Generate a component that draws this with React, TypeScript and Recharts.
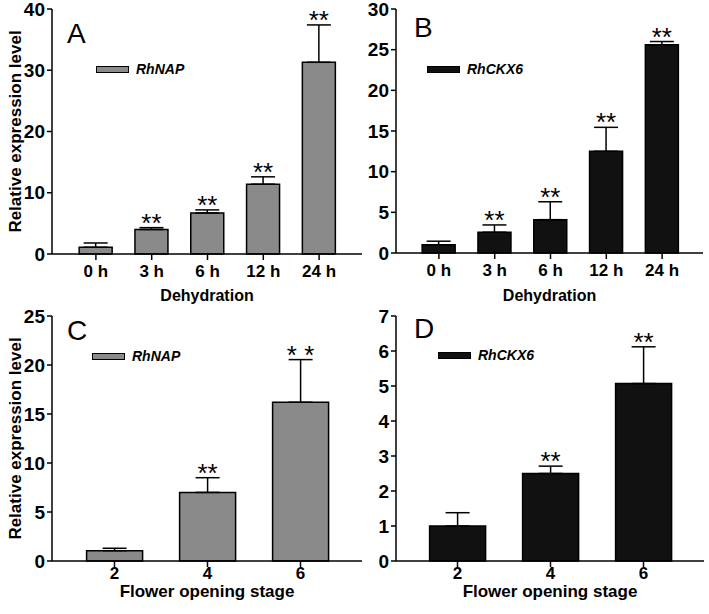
import React from 'react';
import { BarChart, Bar, XAxis, YAxis, ErrorBar, LabelList, Legend } from 'recharts';

const dehydrationHours = ['0 h', '3 h', '6 h', '12 h', '24 h'];
const openingStages = ['2', '4', '6'];

// relative expression, mean and upper SD
const napDehydration = [1.1, 4.0, 6.7, 11.4, 31.3];
const napDehydrationErr = [0.7, 0.3, 0.5, 1.2, 6.1];
const ckxDehydration = [1.0, 2.55, 4.1, 12.5, 25.6];
const ckxDehydrationErr = [0.45, 0.9, 2.2, 2.95, 0.4];
const napStage = [1.05, 7.0, 16.2];
const napStageErr = [0.25, 1.5, 4.35];
const ckxStage = [1.0, 2.5, 5.07];
const ckxStageErr = [0.38, 0.21, 1.05];

const dehydrationSig = ['', '**', '**', '**', '**'];
const napStageSig = ['', '**', '* *'];
const ckxStageSig = ['', '**', '**'];

const ticksA = [0, 10, 20, 30, 40];
const ticksB = [0, 5, 10, 15, 20, 25, 30];
const ticksC = [0, 5, 10, 15, 20, 25];
const ticksD = [0, 1, 2, 3, 4, 5, 6, 7];

const font = '"Liberation Sans", Arial, Helvetica, sans-serif';
const GRAY = '#8a8a8a';
const BLACK = '#111111';
const line = { stroke: '#000', strokeWidth: 1.5 };

function Panel(props: any) {
  const {
    left, top, width, height, plotTop, axisWidth, rightMargin, xAxisHeight, pad,
    labels, values, errors, sig, fill, gene, letter, letterPos, legendPos,
    yTicks, xTitle, xTitleSize, xTitleOffset, xTickSize, xTickMargin, yTitle,
  } = props;

  const data = labels.map((label: string, i: number) => ({
    label,
    value: values[i],
    err: [0, errors[i]],
    sig: sig[i],
  }));

  const stars = (p: any) => {
    const i = p.index;
    if (i == null || !sig[i]) return null;
    const x = p.x ?? p.viewBox?.x;
    const y = p.y ?? p.viewBox?.y;
    const w = p.width ?? p.viewBox?.width;
    const h = p.height ?? p.viewBox?.height;
    const k = h / values[i];
    const errTop = y - errors[i] * k;
    return (
      <text x={x + w / 2} y={errTop + 4} textAnchor="middle" fontSize={26} fontFamily={font} fill="#000">
        {sig[i]}
      </text>
    );
  };

  const legend = () => (
    <div style={{ display: 'flex', alignItems: 'center', fontFamily: font }}>
      <div style={{ width: 31, height: 5, background: fill, border: '1.5px solid #000' }} />
      <span style={{ marginLeft: 7, fontSize: 14, fontWeight: 'bold', fontStyle: 'italic', lineHeight: '14px' }}>
        {gene}
      </span>
    </div>
  );

  return (
    <div style={{ position: 'absolute', left, top }}>
      <BarChart
        width={width}
        height={height}
        data={data}
        margin={{ top: plotTop, right: rightMargin, left: 0, bottom: 0 }}
        barCategoryGap="20%"
      >
        <XAxis
          dataKey="label"
          height={xAxisHeight}
          padding={pad}
          axisLine={line}
          tickLine={line}
          tickSize={xTickSize}
          tickMargin={xTickMargin}
          tick={{ fill: '#000', fontSize: 17, fontWeight: 'bold', fontFamily: font }}
          label={{
            value: xTitle,
            position: 'insideBottom',
            offset: xTitleOffset,
            style: { fill: '#000', fontSize: xTitleSize, fontWeight: 'bold', fontFamily: font },
          }}
        />
        <XAxis xAxisId="top" dataKey="label" orientation="top" height={0} tick={false} tickLine={false} axisLine={line} />
        <YAxis
          width={axisWidth}
          domain={[0, yTicks[yTicks.length - 1]]}
          ticks={yTicks}
          interval={0}
          axisLine={line}
          tickLine={line}
          tickSize={5}
          tickMargin={2}
          tick={{ fill: '#000', fontSize: 19, fontWeight: 'bold', fontFamily: font }}
          label={
            yTitle
              ? {
                  value: yTitle,
                  angle: -90,
                  position: 'insideLeft',
                  offset: 15,
                  style: { textAnchor: 'middle', fill: '#000', fontSize: 17, fontWeight: 'bold', fontFamily: font },
                }
              : undefined
          }
        />
        <YAxis yAxisId="right" orientation="right" width={0} tick={false} tickLine={false} axisLine={line} />
        <Legend
          layout="vertical"
          align="center"
          verticalAlign="middle"
          wrapperStyle={{ left: legendPos[0], top: legendPos[1], width: 'auto' }}
          content={legend}
        />
        <Bar dataKey="value" fill={fill} stroke="#000" strokeWidth={1.5} isAnimationActive={false}>
          <ErrorBar dataKey="err" direction="y" width={12} stroke="#000" strokeWidth={1.5} />
          <LabelList dataKey="sig" content={stars} />
        </Bar>
        <text x={letterPos[0]} y={letterPos[1]} fontSize={28} fontFamily={font} fill="#000">
          {letter}
        </text>
      </BarChart>
    </div>
  );
}

export default function App() {
  return (
    <div style={{ position: 'absolute', left: 0, top: 0, width: 709, height: 614, background: '#fff' }}>
      <Panel
        left={0} top={0} width={365} height={310} plotTop={9} axisWidth={52} rightMargin={3} xAxisHeight={56}
        pad={{ left: 16, right: 15 }} labels={dehydrationHours} values={napDehydration} errors={napDehydrationErr}
        sig={dehydrationSig} fill={GRAY} gene="RhNAP" letter="A" letterPos={[67, 43]} legendPos={[96, 62]}
        yTicks={ticksA} xTitle="Dehydration" xTitleSize={16} xTitleOffset={9} xTickSize={6} xTickMargin={5}
        yTitle="Relative expression level"
      />
      <Panel
        left={355} top={0} width={354} height={310} plotTop={9} axisWidth={41} rightMargin={6} xAxisHeight={57}
        pad={{ left: 15, right: 13 }} labels={dehydrationHours} values={ckxDehydration} errors={ckxDehydrationErr}
        sig={dehydrationSig} fill={BLACK} gene="RhCKX6" letter="B" letterPos={[59, 37]} legendPos={[72, 62]}
        yTicks={ticksB} xTitle="Dehydration" xTitleSize={16} xTitleOffset={9} xTickSize={6} xTickMargin={5}
      />
      <Panel
        left={0} top={300} width={365} height={314} plotTop={16} axisWidth={52} rightMargin={3} xAxisHeight={53}
        pad={{ left: 16, right: 15 }} labels={openingStages} values={napStage} errors={napStageErr}
        sig={napStageSig} fill={GRAY} gene="RhNAP" letter="C" letterPos={[67, 40]} legendPos={[92, 49]}
        yTicks={ticksC} xTitle="Flower opening stage" xTitleSize={17} xTitleOffset={17} xTickSize={6} xTickMargin={0}
        yTitle="Relative expression level"
      />
      <Panel
        left={355} top={300} width={354} height={314} plotTop={16} axisWidth={41} rightMargin={5} xAxisHeight={53}
        pad={{ left: 15, right: 14 }} labels={openingStages} values={ckxStage} errors={ckxStageErr}
        sig={ckxStageSig} fill={BLACK} gene="RhCKX6" letter="D" letterPos={[59, 38]} legendPos={[83, 48]}
        yTicks={ticksD} xTitle="Flower opening stage" xTitleSize={17} xTitleOffset={17} xTickSize={6} xTickMargin={0}
      />
    </div>
  );
}
